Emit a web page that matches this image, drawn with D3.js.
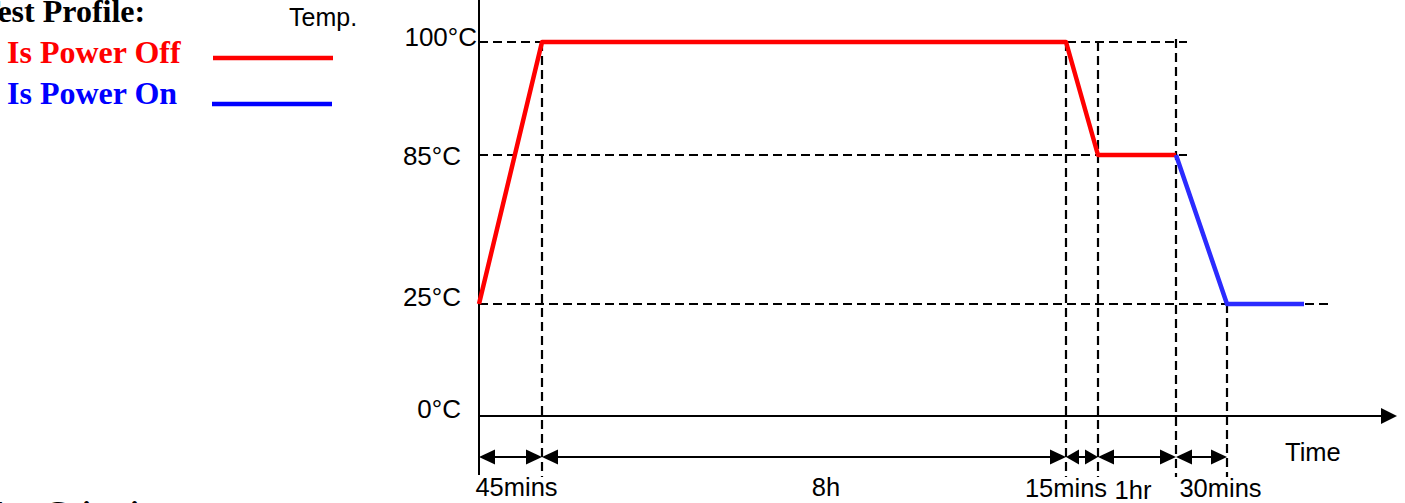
<!DOCTYPE html>
<html>
<head>
<meta charset="utf-8">
<script src="https://cdn.jsdelivr.net/npm/d3@7"></script>
<style>
  body { margin: 0; background: #fff; overflow: hidden; }
  svg { display: block; }
</style>
</head>
<body>
<div id="chartDiv"></div>
<script>
const width = 1405;
const height = 503;

// test profile data (minutes, °C)
const phaseMins = [45, 480, 15, 60, 30, 60];
const phaseLabels = ["45mins", "8h", "15mins", "1hr", "30mins"];
const tempTicks = [0, 25, 85, 100];
const tempLabels = ["0°C", "25°C", "85°C", "100°C"];
const powerOffProfile = [[0, 25], [45, 100], [525, 100], [540, 85], [600, 85]];
const powerOnProfile = [[600, 85], [630, 25], [690, 25]];
const legendNames = ["Is Power Off", "Is Power On"];

const sans = "'Liberation Sans', Arial, sans-serif";
const serif = "'Liberation Serif', 'Times New Roman', serif";
const red = "#ff0000";
const blue = "#0000ff";

// cumulative phase boundaries
var bounds = [0];
phaseMins.forEach(m => bounds.push(bounds[bounds.length - 1] + m));

// schematic (not to scale) axes -> piecewise linear scales
var x = d3.scaleLinear()
    .domain(bounds)
    .range([479, 542, 1066, 1098, 1176, 1227, 1304]);
var y = d3.scaleLinear()
    .domain(tempTicks)
    .range([416, 304, 155, 42]);

var svg = d3.select("#chartDiv").append("svg")
    .attr("width", width)
    .attr("height", height);

var arrowY = 457;
var guideBottom = 477;

// dashed guide lines
var hGuides = [
    {t: 25, x2: x(bounds[6]) + 26},
    {t: 85, x2: x(bounds[4]) + 11},
    {t: 100, x2: x(bounds[4]) + 11}
];
svg.selectAll(".hguide")
    .data(hGuides)
    .enter()
    .append("line")
    .attr("class", "hguide")
    .attr("x1", x(0))
    .attr("x2", d => d.x2)
    .attr("y1", d => y(d.t))
    .attr("y2", d => y(d.t))
    .style("stroke", "black")
    .style("stroke-width", 2.2)
    .style("stroke-dasharray", "9,5");

var vGuides = [
    {m: bounds[1], t: 100},
    {m: bounds[2], t: 100},
    {m: bounds[3], t: 100},
    {m: bounds[4], t: 100, extra: 3},
    {m: bounds[5], t: 25}
];
svg.selectAll(".vguide")
    .data(vGuides)
    .enter()
    .append("line")
    .attr("class", "vguide")
    .attr("x1", d => x(d.m))
    .attr("x2", d => x(d.m))
    .attr("y1", d => y(d.t) - (d.extra || 0))
    .attr("y2", guideBottom)
    .style("stroke", "black")
    .style("stroke-width", 2.2)
    .style("stroke-dasharray", "9,5");

// axes
svg.append("line")
    .attr("x1", x(0)).attr("x2", x(0))
    .attr("y1", 0).attr("y2", 475)
    .style("stroke", "black").style("stroke-width", 2);
svg.append("line")
    .attr("x1", x(0)).attr("x2", 1382)
    .attr("y1", y(0)).attr("y2", y(0))
    .style("stroke", "black").style("stroke-width", 2);
svg.append("path")
    .attr("d", "M1381," + (y(0) - 8) + " L1397," + y(0) + " L1381," + (y(0) + 8) + " Z")
    .style("fill", "black");

// temperature tick labels
svg.selectAll(".tlabel")
    .data(tempTicks)
    .enter()
    .append("text")
    .attr("class", "tlabel")
    .attr("x", d => d === 100 ? x(0) - 2 : x(0) - 18)
    .attr("y", d => y(d) + (d === 85 ? 10 : (d === 100 ? 4 : 2)))
    .attr("text-anchor", "end")
    .style("font-family", sans)
    .style("font-size", "26px")
    .text((d, i) => tempLabels[i]);

svg.append("text")
    .attr("x", 289).attr("y", 26)
    .style("font-family", sans).style("font-size", "25px")
    .text("Temp.");
svg.append("text")
    .attr("x", 1285).attr("y", 461)
    .style("font-family", sans).style("font-size", "25.5px")
    .text("Time");

// profile lines
var line = d3.line()
    .x(d => x(d[0]))
    .y(d => y(d[1]));

svg.append("path")
    .datum(powerOffProfile)
    .attr("d", line)
    .style("fill", "none")
    .style("stroke", red)
    .style("stroke-width", 4.5)
    .style("stroke-linejoin", "round");
svg.append("path")
    .datum(powerOnProfile)
    .attr("d", line)
    .style("fill", "none")
    .style("stroke", "#2b2bff")
    .style("stroke-width", 4.5)
    .style("stroke-linejoin", "round");

// duration arrows
var half = 7.5;
phaseLabels.forEach((label, i) => {
    var a = x(bounds[i]), b = x(bounds[i + 1]);
    var head = Math.min(16, (b - a) / 2 - 3);
    svg.append("line")
        .attr("x1", a + 2).attr("x2", b - 2)
        .attr("y1", arrowY).attr("y2", arrowY)
        .style("stroke", "black").style("stroke-width", 2);
    svg.append("path")
        .attr("d", "M" + a + "," + arrowY + " L" + (a + head) + "," + (arrowY - half) +
            " L" + (a + head) + "," + (arrowY + half) + " Z")
        .style("fill", "black");
    svg.append("path")
        .attr("d", "M" + b + "," + arrowY + " L" + (b - head) + "," + (arrowY - half) +
            " L" + (b - head) + "," + (arrowY + half) + " Z")
        .style("fill", "black");
});

// labels are nudged by hand in the original drawing
var labelNudge = [6, 22, -16, -4, 19];
var labelDrop = [496, 496, 497, 499, 497];
svg.selectAll(".plabel")
    .data(phaseLabels)
    .enter()
    .append("text")
    .attr("class", "plabel")
    .attr("x", (d, i) => (x(bounds[i]) + x(bounds[i + 1])) / 2 + labelNudge[i])
    .attr("y", (d, i) => labelDrop[i])
    .attr("text-anchor", "middle")
    .style("font-family", sans)
    .style("font-size", "25.5px")
    .text(d => d);

// legend
svg.append("text")
    .attr("x", -21).attr("y", 22)
    .style("font-family", serif).style("font-weight", "bold").style("font-size", "32px")
    .text("Test Profile:");

var legendColors = [red, blue];
var legendY = [63, 104];
var lineY = [58, 104];
legendNames.forEach((name, i) => {
    svg.append("text")
        .attr("x", 7).attr("y", legendY[i])
        .style("font-family", serif).style("font-weight", "bold").style("font-size", "32px")
        .style("fill", legendColors[i])
        .text(name);
    svg.append("line")
        .attr("x1", 213 - i).attr("x2", 333 - i)
        .attr("y1", lineY[i]).attr("y2", lineY[i])
        .style("stroke", legendColors[i])
        .style("stroke-width", 4.5);
});

svg.append("text")
    .attr("x", -19).attr("y", 523)
    .style("font-family", serif).style("font-weight", "bold").style("font-size", "32px")
    .text("Test Criteria:");
</script>
</body>
</html>
